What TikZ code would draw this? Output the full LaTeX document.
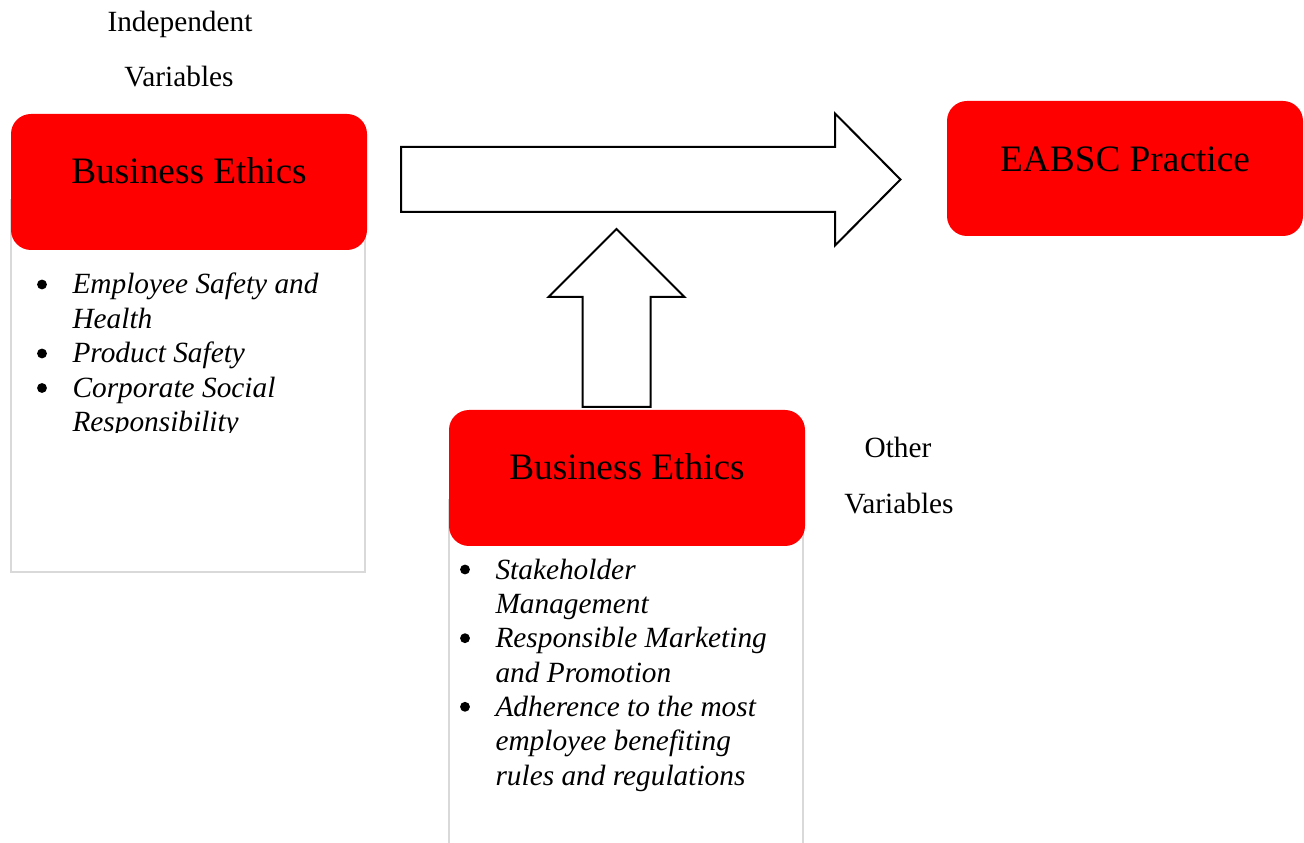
\documentclass[tikz,border=0pt]{standalone}
\usepackage{fontspec}
\setmainfont{Liberation Serif}
\begin{document}
\begin{tikzpicture}[x=0.375pt,y=-0.375pt,
  redbox/.style={fill=red, rounded corners=7.5pt},
  frame/.style={draw=black!15, line width=0.75pt},
  blockarrow/.style={draw=black, fill=white, line width=0.75pt, miter limit=10},
  title/.style={font=\fontsize{14}{16}\selectfont, inner sep=0pt, anchor=base},
  plain/.style={font=\fontsize{11}{13}\selectfont, inner sep=0pt, anchor=base},
  itemtext/.style={font=\fontsize{11}{13}\selectfont\itshape, inner sep=0pt, anchor=base west},
  dot/.style={circle, fill=black, inner sep=0pt, minimum size=3.7pt},
]
\useasboundingbox (0,0) rectangle (1304,843);

% captions
\node[plain] (indep) at (180,32) {Independent};
\node[plain] (indepvar) at (179,87) {Variables};
\node[plain] (other) at (898,458) {Other};
\node[plain] (othervar) at (899,513.5) {Variables};

% left block: frame, red header, list
\draw[frame] (11,200) rectangle (365,572);
\path[redbox] (11,114) rectangle (367,250);
\node[title] (be1) at (189,184) {Business Ethics};
\begin{scope}
  \clip (11,252) rectangle (365,433);
  \node[dot] (b11) at (42,284.5) {};
  \node[itemtext] (l11) at (72,294) {Employee Safety and};
  \node[itemtext] (l12) at (72,328.5) {Health};
  \node[dot] (b12) at (42,353.5) {};
  \node[itemtext] (l13) at (72,363) {Product Safety};
  \node[dot] (b13) at (42,388) {};
  \node[itemtext] (l14) at (72,397.5) {Corporate Social};
  \node[itemtext] (l15) at (72,432) {Responsibility};
\end{scope}

% right block
\path[redbox] (947,101) rectangle (1303,236);
\node[title] (eabsc) at (1125,172) {EABSC Practice};

% bottom block: open frame, red header, list
\draw[frame] (449,843) -- (449,500) -- (803,500) -- (803,843);
\path[redbox] (449,410) rectangle (805,546);
\node[title] (be2) at (627,480) {Business Ethics};
\node[dot] (b21) at (465,569.5) {};
\node[itemtext] (l21) at (495,579) {Stakeholder};
\node[itemtext] (l22) at (495,613.3) {Management};
\node[dot] (b22) at (465,638.2) {};
\node[itemtext] (l23) at (495,647.7) {Responsible Marketing};
\node[itemtext] (l24) at (495,682) {and Promotion};
\node[dot] (b23) at (465,706.8) {};
\node[itemtext] (l25) at (495,716.3) {Adherence to the most};
\node[itemtext] (l26) at (495,750.7) {employee benefiting};
\node[itemtext] (l27) at (495,785) {rules and regulations};

% block arrows
\draw[blockarrow] (401,147) -- (835,147) -- (835,113.5) -- (900.5,179.5)
  -- (835,245.5) -- (835,212) -- (401,212) -- cycle;
\draw[blockarrow] (582.5,407) -- (582.5,297) -- (548.5,297) -- (616.5,229)
  -- (684.5,297) -- (650.5,297) -- (650.5,407) -- cycle;
\end{tikzpicture}
\end{document}
